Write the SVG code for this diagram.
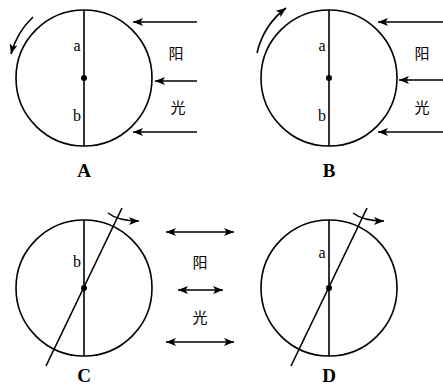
<svg xmlns="http://www.w3.org/2000/svg" width="443" height="387" viewBox="0 0 443 387">
<defs>
<marker id="ah" viewBox="0 0 10 8" refX="10" refY="4" markerWidth="10" markerHeight="8" markerUnits="userSpaceOnUse" orient="auto-start-reverse">
<path d="M0,0 L10,4 L0,8 L2.5,4 Z" fill="#000"/>
</marker>
</defs>
<style>
.ln{stroke:#000;stroke-width:1.6;fill:none}
.c{stroke:#000;stroke-width:1.6;fill:#fff}
.lab{font-family:"Liberation Serif",serif;font-size:16px;fill:#000;text-anchor:middle}
.cap{font-family:"Liberation Serif",serif;font-size:19px;font-weight:bold;fill:#000;text-anchor:middle}
.cjk{font-family:"Noto Sans CJK SC",sans-serif;font-size:15px;fill:#000;text-anchor:middle}
</style>
<rect width="443" height="387" fill="#fff"/>
<g id="nodeA">
<circle class="c" cx="84" cy="78" r="68"/>
<line class="ln" x1="84" y1="10" x2="84" y2="146"/>
<circle cx="84" cy="78" r="3" fill="#000"/>
<text class="lab" x="77" y="51">a</text>
<text class="lab" x="77" y="121">b</text>
<text class="cap" x="84" y="177">A</text>
</g>
<g id="nodeB">
<circle class="c" cx="329" cy="78" r="68"/>
<line class="ln" x1="329" y1="10" x2="329" y2="146"/>
<circle cx="329" cy="78" r="3" fill="#000"/>
<text class="lab" x="322" y="51">a</text>
<text class="lab" x="322" y="121">b</text>
<text class="cap" x="329" y="177">B</text>
</g>
<g id="nodeC">
<circle class="c" cx="84" cy="288" r="68"/>
<line class="ln" x1="84" y1="220" x2="84" y2="356"/>
<line class="ln" x1="46" y1="366" x2="122" y2="208"/>
<circle cx="84" cy="288" r="3" fill="#000"/>
<text class="lab" x="77" y="267">b</text>
<text class="cap" x="84" y="382">C</text>
</g>
<g id="nodeD">
<circle class="c" cx="329" cy="288" r="68"/>
<line class="ln" x1="329" y1="220" x2="329" y2="356"/>
<line class="ln" x1="291" y1="366" x2="367" y2="208"/>
<circle cx="329" cy="288" r="3" fill="#000"/>
<text class="lab" x="322" y="258">a</text>
<text class="cap" x="329" y="382">D</text>
</g>
<g id="sunlight">
<text class="cjk" x="176" y="59">阳</text>
<text class="cjk" x="178" y="113">光</text>
<text class="cjk" x="422" y="59">阳</text>
<text class="cjk" x="422" y="113">光</text>
<text class="cjk" x="200" y="268">阳</text>
<text class="cjk" x="200" y="323">光</text>
</g>
<g id="connectors">
<path class="ln" d="M33,17 A79,79 0 0 0 11,54" marker-end="url(#ah)"/>
<path class="ln" d="M257,53 A79,79 0 0 1 286,8" marker-end="url(#ah)"/>
<path class="ln" d="M108,213 Q118,221 139,221" marker-end="url(#ah)"/>
<path class="ln" d="M353,213 Q363,221 384,221" marker-end="url(#ah)"/>
<line class="ln" x1="197" y1="22" x2="133" y2="22" marker-end="url(#ah)"/>
<line class="ln" x1="197" y1="81" x2="155" y2="81" marker-end="url(#ah)"/>
<line class="ln" x1="197" y1="132" x2="133" y2="132" marker-end="url(#ah)"/>
<line class="ln" x1="443" y1="22" x2="378" y2="22" marker-end="url(#ah)"/>
<line class="ln" x1="443" y1="80" x2="399" y2="80" marker-end="url(#ah)"/>
<line class="ln" x1="443" y1="132" x2="378" y2="132" marker-end="url(#ah)"/>
<line class="ln" x1="166" y1="232" x2="234" y2="232" marker-start="url(#ah)" marker-end="url(#ah)"/>
<line class="ln" x1="178" y1="290" x2="223" y2="290" marker-start="url(#ah)" marker-end="url(#ah)"/>
<line class="ln" x1="166" y1="342" x2="234" y2="342" marker-start="url(#ah)" marker-end="url(#ah)"/>
</g>
</svg>
